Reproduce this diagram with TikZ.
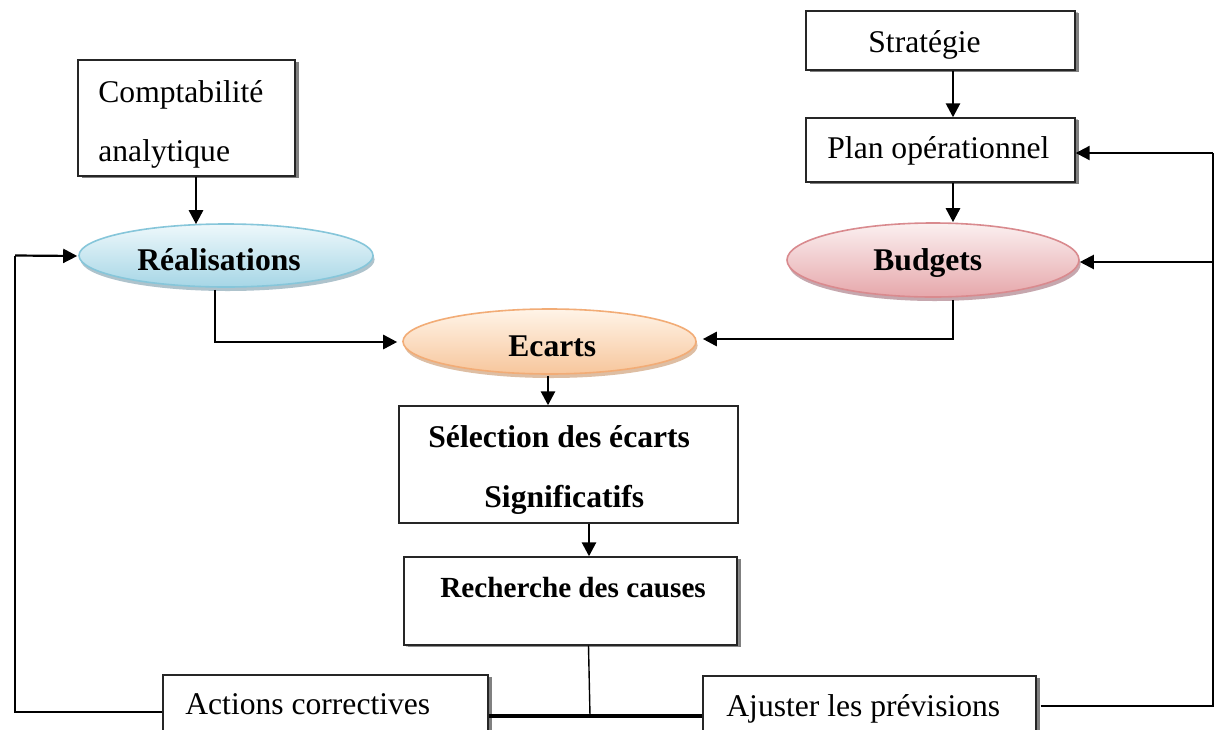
\documentclass[tikz,border=0pt]{standalone}
\usepackage{fontspec}
\setmainfont{Liberation Serif}
\usetikzlibrary{arrows.meta,shapes.geometric,shadows,fit,calc}

\definecolor{realTop}{HTML}{EEF8FB}
\definecolor{realBot}{HTML}{A6D6E6}
\definecolor{realLine}{HTML}{86C6DA}
\definecolor{realShade}{HTML}{9AB4C0}
\definecolor{budTop}{HTML}{FBF0F0}
\definecolor{budBot}{HTML}{E6A7AB}
\definecolor{budLine}{HTML}{D98A8E}
\definecolor{budShade}{HTML}{B8929A}
\definecolor{ecTop}{HTML}{FFF4E8}
\definecolor{ecBot}{HTML}{F7C69C}
\definecolor{ecLine}{HTML}{F2AC76}
\definecolor{ecShade}{HTML}{D6AE8C}

\tikzset{
  box/.style={draw=black!85, line width=0.7pt, fill=white, inner sep=0pt,
    drop shadow={shadow xshift=2pt, shadow yshift=-1pt, fill=black!50, opacity=1}},
  flatbox/.style={draw=black!85, line width=0.7pt, fill=white, inner sep=0pt},
  oval/.style={ellipse, inner sep=0pt, line width=0.8pt},
  txt/.style={anchor=base west, inner sep=0pt, font=\fontsize{15.8}{19}\selectfont},
  btxt/.style={txt, font=\fontsize{15.8}{19}\selectfont\bfseries},
  arr/.style={line width=1.35pt, -{Triangle[length=7pt,width=7pt]}},
  link/.style={line width=0.9pt},
}

\begin{document}
\begin{tikzpicture}[x=0.5pt, y=-0.5pt]
\clip (0,0) rectangle (1216,729);
\fill[white] (0,0) rectangle (1216,729);

% rectangular steps
\node[box, drop shadow={shadow xshift=2.2pt, shadow yshift=-1.2pt, fill=black!50}, fit={(78,60)(295,176)}] (compta) {};
\node[box, drop shadow={shadow xshift=1.5pt, shadow yshift=-0.5pt, fill=black!50}, fit={(806,11)(1075,70)}] (strat) {};
\node[box, drop shadow={shadow xshift=1.5pt, shadow yshift=-0.5pt, fill=black!50}, fit={(806,118)(1075,182)}] (plan) {};
\node[flatbox, fit={(399,406)(738,523)}] (select) {};
\node[box, drop shadow={shadow xshift=0.8pt, shadow yshift=-0.8pt, fill=black!40}, fit={(404,557)(737,645)}] (cause) {};
\node[box, drop shadow={shadow xshift=2pt, shadow yshift=-1pt, fill=black!50}, fit={(163,675)(488,760)}] (actions) {};
\node[box, drop shadow={shadow xshift=2pt, shadow yshift=-1pt, fill=black!50}, fit={(703,676)(1036,760)}] (ajust) {};

% oval stages
\node[oval, draw=realLine, top color=realTop, bottom color=realBot,
  drop shadow={shadow xshift=0.8pt, shadow yshift=-2pt, fill=realShade, opacity=0.8},
  minimum width=147pt, minimum height=31.5pt] (real) at (226,255.5) {};
\node[oval, draw=budLine, top color=budTop, bottom color=budBot,
  drop shadow={shadow xshift=0.8pt, shadow yshift=-2pt, fill=budShade, opacity=0.8},
  minimum width=146pt, minimum height=37pt] (budg) at (933,260) {};
\node[oval, draw=ecLine, top color=ecTop, bottom color=ecBot,
  drop shadow={shadow xshift=0.8pt, shadow yshift=-2pt, fill=ecShade, opacity=0.8},
  minimum width=146.5pt, minimum height=32.5pt] (ecarts) at (549.5,341.5) {};

% labels
\node[txt] (t-compta1) at (98,102) {Comptabilité};
\node[txt] (t-compta2) at (98,161) {analytique};
\node[txt] (t-strat) at (868,52) {Stratégie};
\node[txt] (t-plan) at (827,158) {Plan opérationnel};
\node[btxt] (t-real) at (137,270) {Réalisations};
\node[btxt] (t-budg) at (873,270) {Budgets};
\node[btxt] (t-ecarts) at (508,356) {Ecarts};
\node[btxt] (t-select1) at (428,447) {Sélection des écarts};
\node[btxt] (t-select2) at (484,507) {Significatifs};
\node[txt, font=\fontsize{14.6}{18}\selectfont\bfseries] (t-cause) at (440,597) {Recherche des causes};
\node[txt] (t-actions) at (185,714) {Actions correctives};
\node[txt] (t-ajust) at (726,716) {Ajuster les prévisions};

% downward flow
\draw[arr] ($(compta.south)+(9.5,0)$) -- ($(real.north)+(-30,1)$);
\draw[arr] ($(strat.south)+(12.5,0)$) -- ($(plan.north)+(12.5,0)$);
\draw[arr] ($(plan.south)+(12.5,0)$) -- ($(budg.north)+(20,0)$);
\draw[arr] ($(real.south)+(-11,2)$) |- ($(ecarts.west)+(-5,0.5)$);
\draw[arr] ($(budg.south)+(20,2)$) |- ($(ecarts.east)+(6,-2.5)$);
\draw[arr] ($(ecarts.south)+(-1.5,1)$) -- ($(select.north)+(-20.5,0)$);
\draw[arr] ($(select.south)+(20.5,0)$) -- ($(cause.north)+(18.5,0)$);

% junction below the cause analysis
\coordinate (j) at ($(cause.south)+(19.5,70)$);
\draw[line width=0.7pt] ($(cause.south)+(18,0)$) -- (j);
\draw[line width=1.8pt] (j -| actions.east) -- (j -| ajust.west);

% feedback loops
\coordinate (lx) at (15,0);
\coordinate (rx) at (1213,0);
\draw[line width=1pt] ($(actions.west)+(0,-5.5)$) -| (lx |- real.west);
\draw[arr, line width=1.1pt] (lx |- real.west) -- ($(real.west)+(-1,0.5)$);
\draw[link] ($(ajust.east)+(4,-12)$) -| ($(rx |- plan.east)+(0,3)$);
\draw[arr, line width=1.1pt] ($(rx |- plan.east)+(0,3)$) -- ($(plan.east)+(0,3)$);
\draw[arr, line width=1.1pt] ($(rx |- budg.east)+(0,2)$) -- ($(budg.east)+(0,2)$);
\end{tikzpicture}
\end{document}
